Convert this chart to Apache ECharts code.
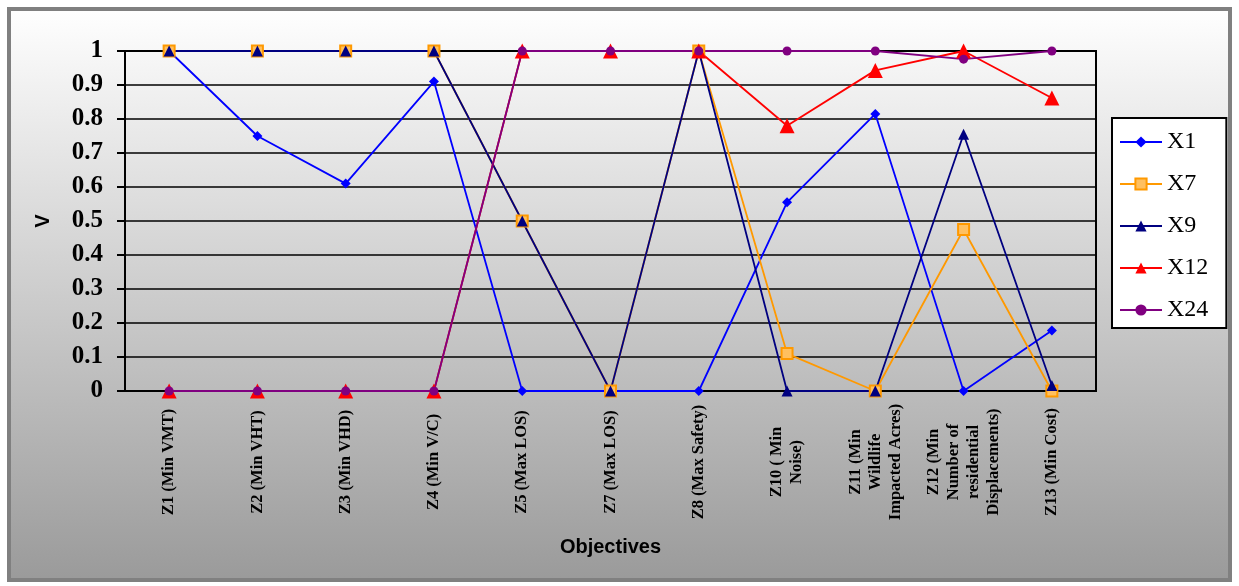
<!DOCTYPE html>
<html>
<head>
<meta charset="utf-8">
<script src="https://cdn.jsdelivr.net/npm/echarts@6/dist/echarts.min.js"></script>
<style>
html,body{margin:0;padding:0;background:#fff;}
#main{width:1239px;height:586px;}
</style>
</head>
<body>
<div id="main"></div>
<script>
// objectives on the x axis
var categories = ['Z1 (Min VMT)', 'Z2 (Min VHT)', 'Z3 (Min VHD)', 'Z4 (Min V/C)', 'Z5 (Max LOS)',
  'Z7 (Max LOS)', 'Z8 (Max Safety)', 'Z10 ( Min\nNoise)', 'Z11 (Min\nWildlife\nImpacted Acres)',
  'Z12 (Min\nNumber of\nresidential\nDisplacements)', 'Z13 (Min Cost)'];

var x1 = [1, 0.75, 0.61, 0.91, 0, 0, 0, 0.555, 0.815, 0, 0.178];
var x7 = [1, 1, 1, 1, 0.5, 0, 1, 0.11, 0, 0.475, 0];
var x9 = [1, 1, 1, 1, 0.5, 0, 1, 0, 0, 0.755, 0.016];
var x12 = [0, 0, 0, 0, 1, 1, 1, 0.78, 0.943, 1, 0.862];
var x24 = [0, 0, 0, 0, 1, 1, 1, 1, 1, 0.976, 1];

var serif = "'Liberation Serif', 'Times New Roman', serif";
var sans = "'Liberation Sans', Arial, sans-serif";

var chart = echarts.init(document.getElementById('main'), null, {renderer: 'canvas'});

function mk(name, data, color, symbol, size, fill) {
  return {
    name: name,
    type: 'line',
    data: data,
    symbol: symbol,
    symbolSize: size,
    animation: false,
    lineStyle: {color: color, width: 1.8},
    itemStyle: {color: fill || color, borderColor: color, borderWidth: fill ? 2 : 0},
    emphasis: {disabled: true}
  };
}

chart.setOption({
  animation: false,
  graphic: [{
    type: 'rect',
    z: -10,
    silent: true,
    shape: {x: 9, y: 9, width: 1221, height: 571},
    style: {
      stroke: '#808080',
      lineWidth: 4,
      fill: new echarts.graphic.LinearGradient(0, 0, 0, 1, [
        {offset: 0, color: '#ffffff'},
        {offset: 1, color: '#9a9a9a'}
      ])
    }
  }],
  grid: {
    left: 125, right: 143, top: 51, bottom: 195,
    show: true, borderColor: '#000', borderWidth: 2, backgroundColor: 'transparent'
  },
  legend: {
    orient: 'vertical',
    left: 1112, top: 118,
    padding: [12, 18, 6, 7],
    backgroundColor: '#fff',
    borderColor: '#000',
    borderWidth: 2,
    itemWidth: 42, itemHeight: 14, itemGap: 18,
    textStyle: {fontFamily: serif, fontSize: 24, color: '#000', lineHeight: 24},
    data: ['X1', 'X7', 'X9', 'X12', 'X24']
  },
  xAxis: {
    type: 'category',
    data: categories,
    name: 'Objectives',
    nameLocation: 'middle',
    nameGap: 146,
    nameTextStyle: {fontFamily: sans, fontSize: 20, fontWeight: 'bold', color: '#000'},
    axisLine: {lineStyle: {color: '#000', width: 2}},
    axisTick: {lineStyle: {color: '#000', width: 2}, length: 5},
    axisLabel: {
      interval: 0, rotate: 90, margin: 71,
      align: 'center', verticalAlign: 'middle',
      fontFamily: serif, fontSize: 16.5, fontWeight: 'bold', color: '#000', lineHeight: 20
    }
  },
  yAxis: {
    type: 'value',
    min: 0, max: 1, interval: 0.1,
    name: 'V',
    nameLocation: 'middle',
    nameGap: 72,
    nameRotate: 90,
    nameTextStyle: {fontFamily: sans, fontSize: 20, fontWeight: 'bold', color: '#000'},
    axisLine: {show: true, lineStyle: {color: '#000', width: 2}},
    axisTick: {show: true, length: 8, lineStyle: {color: '#000', width: 2}},
    axisLabel: {
      margin: 22,
      fontFamily: serif, fontSize: 25, fontWeight: 'bold', color: '#000',
      formatter: function (v) { return String(Math.round(v * 10) / 10); }
    },
    splitLine: {lineStyle: {color: '#000', width: 1.5}}
  },
  series: [
    mk('X1', x1, '#0000ff', 'diamond', 10),
    mk('X7', x7, '#ff9900', 'rect', 11, '#ffc060'),
    mk('X9', x9, '#000080', 'triangle', 11),
    mk('X12', x12, '#ff0000', 'triangle', 15),
    mk('X24', x24, '#800080', 'circle', 9)
  ]
});
</script>
</body>
</html>
